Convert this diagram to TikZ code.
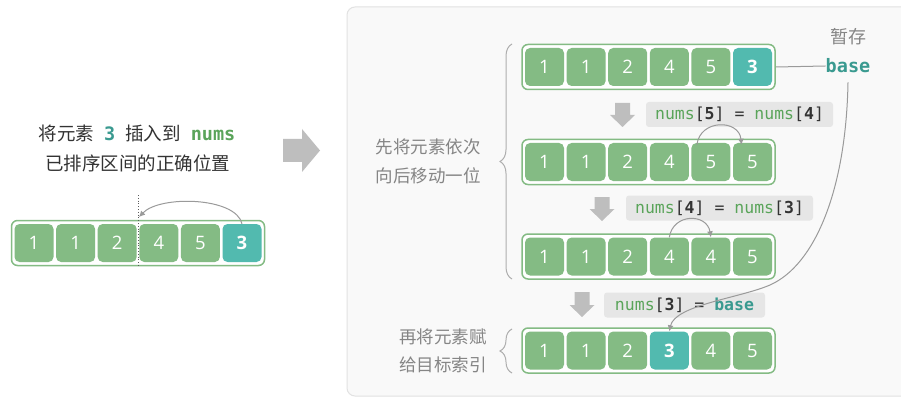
\documentclass[tikz,border=0pt]{standalone}
\usepackage{fontspec}
\setmainfont{Open Sans}
\setmonofont{DejaVu Sans Mono}
\newfontfamily\cjk{Noto Sans CJK SC}
\newfontfamily\cellff{Open Sans}
\usetikzlibrary{decorations.pathreplacing,calc,arrows.meta}
\definecolor{cgreen}{HTML}{84BB84}
\definecolor{cteal}{HTML}{52BAAF}
\definecolor{tgreen}{HTML}{5AA45A}
\definecolor{tteal}{HTML}{3A9A90}
\definecolor{panelbg}{HTML}{F9F9F9}
\definecolor{panelline}{HTML}{E2E2E2}
\definecolor{labelbg}{HTML}{E6E6E6}
\definecolor{arrgray}{HTML}{BEBEBE}
\definecolor{linegray}{HTML}{9A9A9A}
\definecolor{textgray}{HTML}{858585}
\definecolor{textdark}{HTML}{333333}
\newcommand\cellfont{\fontsize{18.5}{18.5}\selectfont\cellff}
\newcommand\garr[3]{%
  \fill[arrgray] ({#1-7.5},#2) -- ({#1+7.5},#2) -- ({#1+7.5},{#3-12}) -- ({#1+12.5},{#3-12}) -- (#1,#3) -- ({#1-12.5},{#3-12}) -- ({#1-7.5},{#3-12}) -- cycle;}
\newcommand\myrow[4]{%
  \node[rowbox] (#1box) at (#2,#3) {};
  \foreach \v/\c/\f [count=\i] in {#4} {
    \node[cellbase, fill=\c] (#1c\i) at ({#2-104+41.6*(\i-1)},#3) {\f\v};
  }}
\tikzset{
  cellbase/.style={rectangle, rounded corners=5pt, minimum width=39pt, minimum height=38pt, inner sep=0pt, text=white, font=\cellfont},
  rowbox/.style={rectangle, rounded corners=6pt, draw=cgreen, line width=1.5pt, fill=white, minimum width=253pt, minimum height=45pt, inner sep=0pt},
  codebox/.style={rectangle, rounded corners=3pt, fill=labelbg, minimum height=25pt, inner sep=0pt, text=textdark, font=\fontsize{16.5}{16.5}\selectfont\ttfamily},
  link/.style={draw=linegray, line width=1pt, -{Latex[length=6pt,width=6pt]}},
  plainline/.style={draw=linegray, line width=1pt},
  cjktext/.style={font=\fontsize{17.5}{17.5}\selectfont\cjk, text=textgray, inner sep=0pt},
  bracestyle/.style={draw=linegray!80, line width=1pt, decorate, decoration={brace, amplitude=12pt}}
}
\begin{document}
\begin{tikzpicture}[x=1pt,y=-1pt]
\useasboundingbox (0,0) rectangle (901,398);
\clip (0,0) rectangle (901,398);
\fill[white] (0,0) rectangle (901,398);
% left part
\node[font=\fontsize{18.5}{18.5}\selectfont\cjk, text=textdark, inner sep=0pt] (t1) at (137,133)
  {将元素\hspace{10pt}{\ttfamily\bfseries\color{tteal}3}\hspace{10pt}插入到\hspace{10pt}{\ttfamily\bfseries\color{tgreen}nums}};
\node[font=\fontsize{18.5}{18.5}\selectfont\cjk, text=textdark, inner sep=0pt] (t2) at (137.5,163) {已排序区间的正确位置};
\myrow{L}{138}{243}{1/cgreen/\relax,1/cgreen/\relax,2/cgreen/\relax,4/cgreen/\relax,5/cgreen/\relax,3/cteal/\bfseries}
\coordinate (dtop) at (138,195);
\coordinate (dbot) at (138,266);
\draw[textdark!80, line width=0.8pt, dotted] (dtop) -- (dbot);
\coordinate (dend) at (139,217);
\draw[link] (Lc6.north) .. controls (236,197) and (160,195) .. (dend);
% big arrow
\fill[arrgray] (283,139) -- (302,139) -- (302,129) -- (320,150.5) -- (302,172) -- (302,162) -- (283,162) -- cycle;
% panel
\draw[fill=panelbg, draw=panelline, line width=1pt, rounded corners=8pt] (347,7) rectangle (930,396);
% rows
\myrow{A}{648.5}{67}{1/cgreen/\relax,1/cgreen/\relax,2/cgreen/\relax,4/cgreen/\relax,5/cgreen/\relax,3/cteal/\bfseries}
\myrow{B}{648.5}{162}{1/cgreen/\relax,1/cgreen/\relax,2/cgreen/\relax,4/cgreen/\relax,5/cgreen/\relax,5/cgreen/\relax}
\myrow{C}{648.5}{256.5}{1/cgreen/\relax,1/cgreen/\relax,2/cgreen/\relax,4/cgreen/\relax,4/cgreen/\relax,5/cgreen/\relax}
\myrow{D}{648.5}{350.5}{1/cgreen/\relax,1/cgreen/\relax,2/cgreen/\relax,3/cteal/\bfseries,4/cgreen/\relax,5/cgreen/\relax}
% down arrows
\garr{622.5}{103}{127}
\garr{602}{197}{221}
\garr{582}{292}{317}
% code labels
\node[codebox, minimum width=187pt] (k1) at (739.5,114.5)
  {\textcolor{tgreen}{nums}[\textbf{5}] = \textcolor{tgreen}{nums}[\textbf{4}]};
\node[codebox, minimum width=187pt] (k2) at (719.5,208)
  {\textcolor{tgreen}{nums}[\textbf{4}] = \textcolor{tgreen}{nums}[\textbf{3}]};
\node[codebox, minimum width=161pt] (k3) at (684.5,305)
  {\textcolor{tgreen}{nums}[\textbf{3}] = \textcolor{tteal}{\textbf{base}}};
% shift arcs
\draw[link] ([xshift=-14pt,yshift=-2pt]Bc5.north) .. controls (700,119) and (739,119) .. ([xshift=-11pt,yshift=-2pt]Bc6.north);
\draw[link] (Cc4.north) .. controls (673,213) and (707,213) .. (Cc5.north);
% base
\node[cjktext, font=\fontsize{18}{18}\selectfont\cjk] (zc) at (848,37) {暂存};
\node[font=\fontsize{18.5}{18.5}\selectfont\ttfamily\bfseries, text=tteal, inner sep=0pt] (base) at (848,66) {base};
\draw[plainline] (Abox.east) -- (base.west);
\draw[link] ([yshift=-9pt]base.south) .. controls (846,190) and (815,265) .. (770,285)
  .. controls (740,298) and (675,305) .. (Dc4.north);
% braces and texts
\draw[bracestyle] (512,279) -- (512,44);
\draw[bracestyle] (512,373) -- (512,329);
\node[cjktext] (s1) at (428,147) {先将元素依次};
\node[cjktext] (s2) at (428,176) {向后移动一位};
\node[cjktext, anchor=east] (s3) at (487,337) {再将元素赋};
\node[cjktext, anchor=east] (s4) at (487,365) {给目标索引};
\end{tikzpicture}
\end{document}
